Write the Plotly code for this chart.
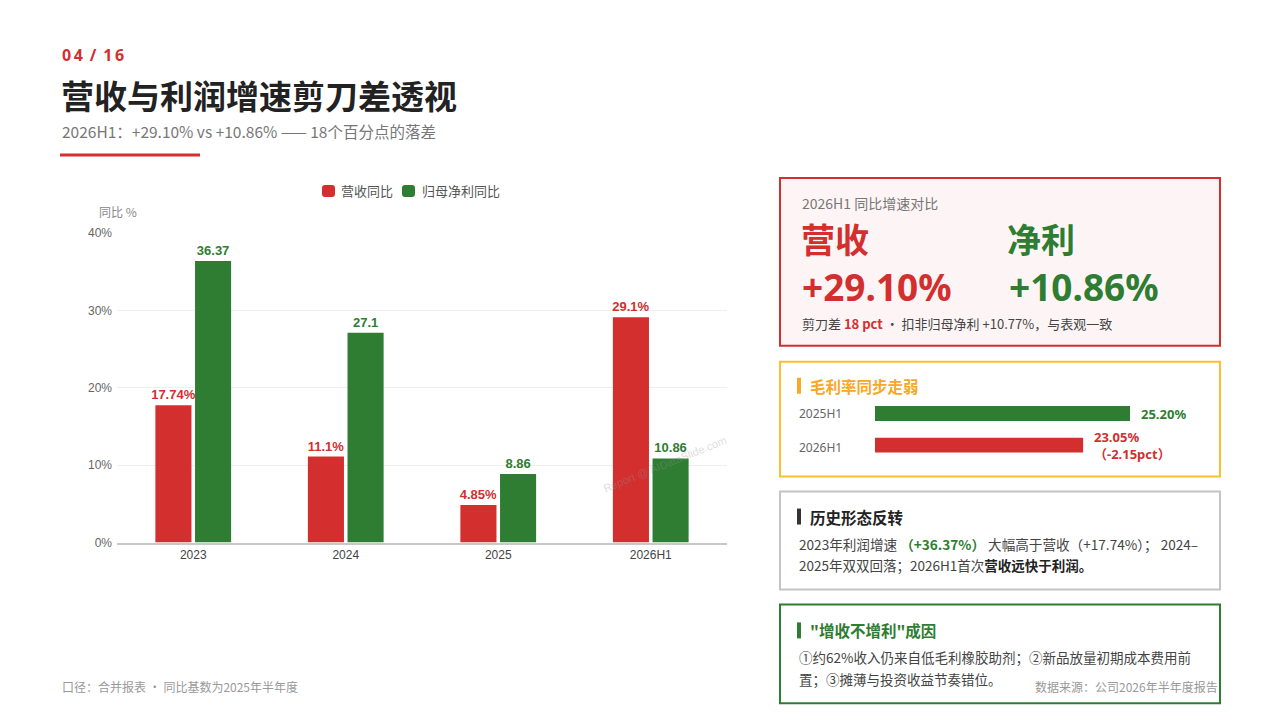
import plotly.graph_objects as go

W, H = 1280, 720
# the photographed page comes out slightly squashed vertically; measured offset/scale
Y_OFF, Y_SCALE = 5.8, 0.9818

RED = "#d32f2f"
GREEN = "#2e7d32"
ORANGE = "#f9a825"
GREY_TXT = "#777777"
CJK = "Noto Sans CJK SC"
SANS = "Noto Sans, Noto Sans CJK SC"

# main chart data
periods = ["2023", "2024", "2025", "2026H1"]
series_names = ["营收同比", "归母净利同比"]
revenue_yoy = [17.74, 11.1, 4.85, 29.1]
profit_yoy = [36.37, 27.1, 8.86, 10.86]
revenue_labels = ["17.74%", "11.1%", "4.85%", "29.1%"]
profit_labels = ["36.37", "27.1", "8.86", "10.86"]
y_ticks = [0, 10, 20, 30, 40]
y_tick_labels = ["0%", "10%", "20%", "30%", "40%"]

# gross margin mini chart
margin_periods = ["2025H1", "2026H1"]
gross_margin = [25.20, 23.05]
margin_labels = ["25.20%", "23.05%<br>（-2.15pct）"]
margin_colors = [GREEN, RED]


def px_x(v):
    return v / W


def px_y(v):
    return 1 - (v - Y_OFF) / Y_SCALE / H


fig = go.Figure()

for name, vals, labels, color in [
    (series_names[0], revenue_yoy, revenue_labels, RED),
    (series_names[1], profit_yoy, profit_labels, GREEN),
]:
    fig.add_trace(go.Bar(
        x=periods, y=vals, name=name,
        marker=dict(color=color, line=dict(width=0)),
        text=labels, texttemplate="<b>%{text}</b>", textposition="outside",
        cliponaxis=False, constraintext="none",
        textfont=dict(color=color, size=13, family="Liberation Sans"),
    ))

fig.add_trace(go.Bar(
    x=gross_margin, y=margin_periods, orientation="h",
    xaxis="x2", yaxis="y2", width=0.47, showlegend=False,
    marker=dict(color=margin_colors, line=dict(width=0)),
))

shapes = []
annotations = []


def note(x, y, text, size=13, color="#444", family=CJK, xanchor="left", **kw):
    annotations.append(dict(
        x=px_x(x), y=px_y(y), xref="paper", yref="paper", text=text,
        showarrow=False, xanchor=xanchor, yanchor="middle",
        font=dict(size=size, color=color, family=family), **kw,
    ))


def box(x0, y0, x1, y1, line, fill="white", width=2):
    shapes.append(dict(
        type="rect", xref="paper", yref="paper",
        x0=px_x(x0), x1=px_x(x1), y0=px_y(y1), y1=px_y(y0),
        line=dict(color=line, width=width), fillcolor=fill, layer="below",
    ))


def accent(y, color):
    shapes.append(dict(
        type="rect", xref="paper", yref="paper",
        x0=px_x(797), x1=px_x(801), y0=px_y(y + 8), y1=px_y(y - 8),
        line=dict(width=0), fillcolor=color,
    ))


def swatch(x0, y0, x1, y1, color, r=3):
    pts = [
        (x0 + r, y0), (x1 - r, y0), (x1, y0), (x1, y0 + r), (x1, y1 - r), (x1, y1),
        (x1 - r, y1), (x0 + r, y1), (x0, y1), (x0, y1 - r), (x0, y0 + r), (x0, y0),
    ]
    p = [(px_x(a), px_y(b)) for a, b in pts]
    path = "M{0[0]},{0[1]} L{1[0]},{1[1]} Q{2[0]},{2[1]} {3[0]},{3[1]} L{4[0]},{4[1]} " \
           "Q{5[0]},{5[1]} {6[0]},{6[1]} L{7[0]},{7[1]} Q{8[0]},{8[1]} {9[0]},{9[1]} " \
           "L{10[0]},{10[1]} Q{11[0]},{11[1]} {0[0]},{0[1]} Z".format(*p)
    shapes.append(dict(type="path", xref="paper", yref="paper", path=path,
                       fillcolor=color, line=dict(width=0)))


# header
note(60, 54, "<b>0\u20094\u2009 / \u20091\u20096</b>", size=16, color=RED, family=SANS)
note(59, 94, "<b>营收与利润增速剪刀差透视</b>", size=33, color="#222")
note(60, 130, "2026H1：+29.10% vs +10.86% —— 18个百分点的落差", size=15.5, color=GREY_TXT)
shapes.append(dict(type="line", xref="paper", yref="paper",
                   x0=px_x(60), x1=px_x(200), y0=px_y(154), y1=px_y(154),
                   line=dict(color=RED, width=3)))

# legend (custom, to match the tight swatch spacing)
swatch(322, 184, 335, 196, RED)
note(339, 190, series_names[0], size=13, color="#555")
swatch(402, 184, 415, 196, GREEN)
note(420, 190, series_names[1], size=13, color="#555")

# chart extras
note(97, 211, "同比 %", size=12, color="#888")
note(60, 686, "口径：合并报表 · 同比基数为2025年半年度", size=12, color="#999")
note(665, 463, "Report @ AIDataSlide.com", size=11, color="rgba(150,150,150,0.35)",
     family="Liberation Sans", xanchor="center", textangle=-22)

# panel 1
box(780, 177, 1220, 345, RED, fill="#fdf5f5")
note(800, 202, "2026H1 同比增速对比", size=14, color=GREY_TXT)
note(799, 238, "<b>营收</b>", size=34, color=RED)
note(1005, 238, "<b>净利</b>", size=34, color=GREEN)
note(800, 286, "<b>+29.10%</b>", size=37, color=RED, family=SANS)
note(1007, 286, "<b>+10.86%</b>", size=37, color=GREEN, family=SANS)
note(800, 323, "剪刀差 <b><span style='color:%s'>18 pct</span></b> · 扣非归母净利 +10.77%%，与表观一致" % RED,
     size=13, color="#444")

# panel 2
box(780, 361, 1220, 476, "#fbc02d")
accent(385, ORANGE)
note(808, 385, "<b>毛利率同步走弱</b>", size=15.5, color=ORANGE)
for name, yy in zip(margin_periods, [413, 447]):
    note(797, yy, name, size=12, color="#666", family=SANS)
for val, cat, lab, col in zip(gross_margin, margin_periods, margin_labels, margin_colors):
    annotations.append(dict(
        x=val, y=cat, xref="x2", yref="y2", text="<b>%s</b>" % lab, showarrow=False,
        xanchor="left", yanchor="middle", xshift=9, align="left",
        font=dict(size=13, color=col, family=SANS),
    ))

# panel 3
box(780, 491, 1220, 589, "#c4c4c4")
accent(516, "#333")
note(808, 516, "<b>历史形态反转</b>", size=15.5, color="#222")
note(797, 543, "2023年利润增速 <b><span style='color:%s'>（+36.37%%）</span></b> 大幅高于营收（+17.74%%）； 2024–" % GREEN,
     size=13.6, color="#444")
note(797, 565, "2025年双双回落；2026H1首次<b><span style='color:#222'>营收远快于利润。</span></b>",
     size=13.5, color="#444")

# panel 4
box(780, 604, 1220, 703, GREEN)
accent(630, GREEN)
note(808, 630, "<b>\"增收不增利\"成因</b>", size=15.5, color=GREEN)
note(797, 657, "①约62%收入仍来自低毛利橡胶助剂；②新品放量初期成本费用前", size=13.5, color="#444")
note(797, 679, "置；③摊薄与投资收益节奏错位。", size=13.5, color="#444")
note(1220, 686, "数据来源：公司2026年半年度报告", size=12, color="#999", xanchor="right")

fig.update_layout(
    width=W, height=H,
    margin=dict(l=0, r=0, t=0, b=0),
    paper_bgcolor="white", plot_bgcolor="white",
    barmode="group", bargap=0.48, bargroupgap=0.09,
    font=dict(family="Liberation Sans, Noto Sans CJK SC", color="#444"),
    showlegend=False,
    xaxis=dict(domain=[px_x(117), px_x(727)], showline=True, linecolor="#c8c8c8", linewidth=2,
               ticks="", tickfont=dict(size=12, color="#444"), showgrid=False),
    yaxis=dict(domain=[px_y(542), px_y(232)], range=[0, 40], tickvals=y_ticks,
               ticktext=y_tick_labels, tickfont=dict(size=12, color="#666"),
               gridcolor="#eeeeee", zeroline=False, ticklabelstandoff=4),
    xaxis2=dict(domain=[px_x(875), px_x(1130)], range=[13.5, 25.2], anchor="y2",
                visible=False, fixedrange=True),
    yaxis2=dict(domain=[px_y(464), px_y(397)], anchor="x2", autorange="reversed",
                visible=False),
    shapes=shapes,
    annotations=annotations,
)

fig.write_html(
    "out.html",
    config={"displayModeBar": False},
    post_script="document.body.style.margin='0';document.body.style.overflow='hidden';",
)
